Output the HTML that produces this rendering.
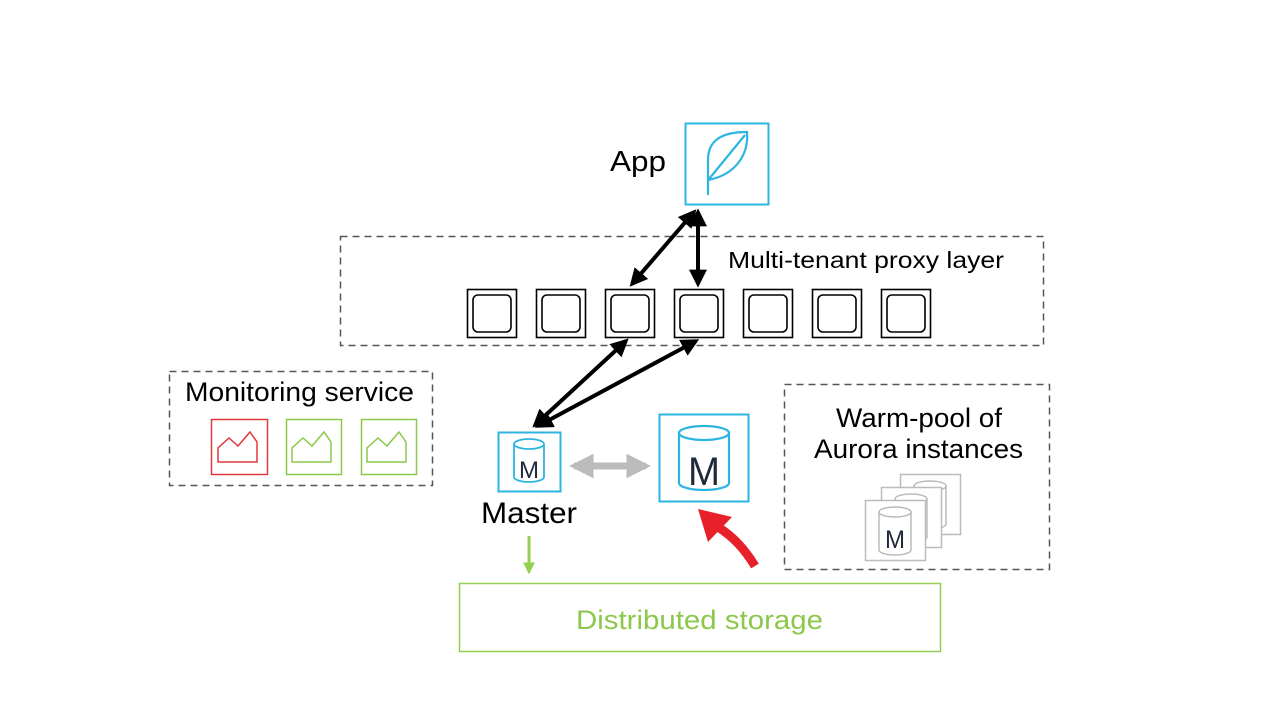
<!DOCTYPE html>
<html><head><meta charset="utf-8"><style>
html,body{margin:0;padding:0;background:#fff;}
svg{display:block;}
text{font-family:"Liberation Sans",sans-serif;}
</style></head><body>
<svg width="1280" height="720" viewBox="0 0 1280 720" xmlns="http://www.w3.org/2000/svg">
<defs>
<marker id="ah" viewBox="0 0 10 10" refX="8" refY="5" markerWidth="4.5" markerHeight="4.5" orient="auto-start-reverse"><path d="M0,0L10,5L0,10z" fill="#000"/></marker>
<marker id="ag" viewBox="0 0 10 10" refX="8" refY="5" markerWidth="3.5" markerHeight="3.8" orient="auto-start-reverse"><path d="M0,0L10,5L0,10z" fill="#bbb"/></marker>
<marker id="agr" viewBox="0 0 10 10" refX="8" refY="5" markerWidth="4" markerHeight="4" orient="auto"><path d="M0,0L10,5L0,10z" fill="#92d050"/></marker>
</defs>
<!-- App -->
<text x="610" y="171" font-size="29" textLength="56" lengthAdjust="spacingAndGlyphs">App</text>
<rect x="685.5" y="123.5" width="83" height="81" fill="none" stroke="#2cb5e0" stroke-width="2"/>
<path d="M708,195 V160 C708,140 722,132 747,132 C749,155 735,175 708,180 M709,179 L745,135" fill="none" stroke="#2cb5e0" stroke-width="2.2"/>
<!-- proxy layer -->
<rect x="340.5" y="236.5" width="703" height="109" fill="none" stroke="#555" stroke-width="1.5" stroke-dasharray="7,5"/>
<text x="728" y="268" font-size="23" textLength="276" lengthAdjust="spacingAndGlyphs">Multi-tenant proxy layer</text>
<g fill="none" stroke="#000" stroke-width="1.6">
<rect x="467.5" y="289.5" width="49" height="48"/><rect x="473" y="295" width="38" height="37" rx="5"/>
<rect x="536.5" y="289.5" width="49" height="48"/><rect x="542" y="295" width="38" height="37" rx="5"/>
<rect x="605.5" y="289.5" width="49" height="48"/><rect x="611" y="295" width="38" height="37" rx="5"/>
<rect x="674.5" y="289.5" width="49" height="48"/><rect x="680" y="295" width="38" height="37" rx="5"/>
<rect x="743.5" y="289.5" width="49" height="48"/><rect x="749" y="295" width="38" height="37" rx="5"/>
<rect x="812.5" y="289.5" width="49" height="48"/><rect x="818" y="295" width="38" height="37" rx="5"/>
<rect x="881.5" y="289.5" width="49" height="48"/><rect x="887" y="295" width="38" height="37" rx="5"/>
</g>
<g stroke="#000" stroke-width="4" marker-start="url(#ah)" marker-end="url(#ah)">
<line x1="694" y1="212" x2="632" y2="284"/>
<line x1="698" y1="212" x2="698" y2="284"/>
<line x1="626" y1="341" x2="535" y2="425"/>
<line x1="696" y1="341" x2="538" y2="426"/>
</g>
<!-- monitoring -->
<rect x="169.5" y="371.5" width="263" height="114" fill="none" stroke="#555" stroke-width="1.5" stroke-dasharray="7,5"/>
<text x="185" y="401" font-size="27" textLength="229" lengthAdjust="spacingAndGlyphs">Monitoring service</text>
<rect x="211.5" y="419.5" width="56" height="55" fill="none" stroke="#e0383e" stroke-width="1.5"/>
<path d="M218,462 V448 L229,438 L238,446 L250,432 L257,442 V462 Z" fill="none" stroke="#e0383e" stroke-width="1.5"/>
<rect x="286.5" y="419.5" width="55" height="55" fill="none" stroke="#8cc84b" stroke-width="1.5"/>
<path d="M292,462 V448 L303,438 L312,446 L324,432 L331,442 V462 Z" fill="none" stroke="#8cc84b" stroke-width="1.5"/>
<rect x="361.5" y="419.5" width="55" height="55" fill="none" stroke="#8cc84b" stroke-width="1.5"/>
<path d="M367,462 V448 L378,438 L387,446 L399,432 L406,442 V462 Z" fill="none" stroke="#8cc84b" stroke-width="1.5"/>
<!-- master -->
<rect x="498.5" y="432.5" width="62" height="59" fill="none" stroke="#2cb5e0" stroke-width="2"/>
<path d="M514,444 V477 A15,5 0 0 0 544,477 V444" fill="none" stroke="#2cb5e0" stroke-width="1.8"/>
<ellipse cx="529" cy="444" rx="15" ry="5" fill="none" stroke="#2cb5e0" stroke-width="1.8"/>
<text x="529" y="478" font-size="24" text-anchor="middle" fill="#1f2a3a" textLength="20" lengthAdjust="spacingAndGlyphs">M</text>
<text x="481" y="523" font-size="30" textLength="96" lengthAdjust="spacingAndGlyphs">Master</text>
<line x1="574" y1="466" x2="646" y2="466" stroke="#bbb" stroke-width="7" marker-start="url(#ag)" marker-end="url(#ag)"/>
<!-- big M -->
<rect x="659.5" y="414.5" width="89" height="87" fill="none" stroke="#2cb5e0" stroke-width="2"/>
<path d="M679,433 V483 A25,7 0 0 0 729,483 V433" fill="none" stroke="#2cb5e0" stroke-width="2.2"/>
<ellipse cx="704" cy="433" rx="25" ry="7" fill="none" stroke="#2cb5e0" stroke-width="2.2"/>
<text x="704" y="485" font-size="40" text-anchor="middle" fill="#1f2a3a" textLength="32" lengthAdjust="spacingAndGlyphs">M</text>
<!-- red arrow -->
<path d="M755,566 C745,550 735,538 718,527" fill="none" stroke="#e8202a" stroke-width="9"/>
<path d="M698,509 L732,517 L708,542 Z" fill="#e8202a"/>
<!-- green arrow -->
<line x1="529" y1="536" x2="529" y2="572" stroke="#92d050" stroke-width="3" marker-end="url(#agr)"/>
<!-- storage -->
<rect x="459.5" y="583.5" width="481" height="68" fill="none" stroke="#92d050" stroke-width="1.5"/>
<text x="576" y="629" font-size="27" fill="#8cc84b" textLength="247" lengthAdjust="spacingAndGlyphs">Distributed storage</text>
<!-- warm pool -->
<rect x="784.5" y="384.5" width="265" height="185" fill="none" stroke="#555" stroke-width="1.5" stroke-dasharray="7,5"/>
<text x="836" y="427" font-size="27" textLength="166" lengthAdjust="spacingAndGlyphs">Warm-pool of</text>
<text x="814" y="458" font-size="27" textLength="209" lengthAdjust="spacingAndGlyphs">Aurora instances</text>
<g fill="#fff" stroke="#bbb" stroke-width="1.5">
<rect x="900.5" y="474.5" width="60" height="60"/>
<path d="M914,486 V524 A16,5 0 0 0 946,524 V486"/><ellipse cx="930" cy="486" rx="16" ry="5"/>
<rect x="881.5" y="487.5" width="60" height="60"/>
<path d="M895,499 V537 A16,5 0 0 0 927,537 V499"/><ellipse cx="911" cy="499" rx="16" ry="5"/>
<rect x="865.5" y="500.5" width="60" height="60"/>
<path d="M879,512 V550 A16,5 0 0 0 911,550 V512"/><ellipse cx="895" cy="512" rx="16" ry="5"/>
</g>
<text x="895" y="548" font-size="25" text-anchor="middle" fill="#1f2a3a" textLength="20" lengthAdjust="spacingAndGlyphs">M</text>
</svg>
</body></html>
